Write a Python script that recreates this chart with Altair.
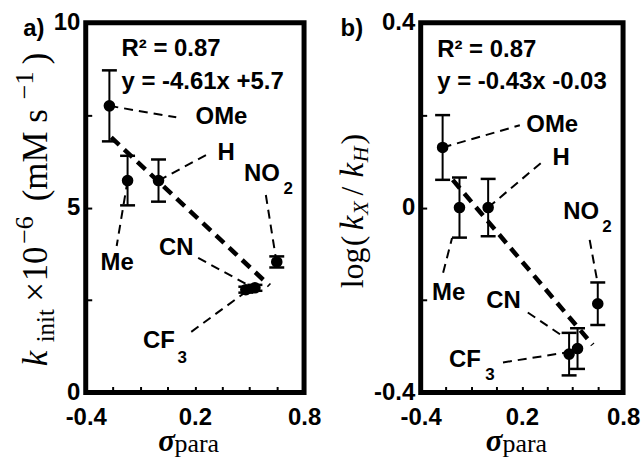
import altair as alt
import pandas as pd

# ---------------- data ----------------
substituents = ["OMe", "Me", "H", "CF3", "CN", "NO2"]
sigma_para = [-0.27, -0.17, 0.0, 0.48, 0.53, 0.65]
k_init = [7.75, 5.73, 5.73, 2.78, 2.83, 3.53]
k_init_err = [0.96, 0.67, 0.57, 0.08, 0.08, 0.15]
log_ratio = [0.13, 0.0, 0.0, -0.317, -0.305, -0.208]
log_ratio_err = [0.07, 0.065, 0.062, 0.046, 0.044, 0.046]

fit_a_x = [-0.26, 0.61]
fit_a_y = [6.90, 2.89]
fit_b_x = [-0.21, 0.62]
fit_b_y = [0.06, -0.297]

label_text = ["OMe", "H", "NO", "Me", "CN", "CF"]
label_a_x = [0.346, 0.371, 0.568, -0.227, 0.0975, 0.002]
label_a_y = [7.45, 6.47, 5.90, 3.50, 3.91, 1.39]
label_b_x = [0.380, 0.433, 0.552, -0.234, 0.091, -0.137]
label_b_y = [0.178, 0.107, -0.009, -0.184, -0.203, -0.330]

sub_text = ["2", "3"]
sub_a_x = [0.713, 0.130]
sub_a_y = [5.50, 0.92]
sub_b_x = [0.705, 0.011]
sub_b_y = [-0.041, -0.363]

# leader lines: OMe, Me, H, NO2, CN, CF3
lead_a_x1 = [-0.27, -0.17, 0.0, 0.590, 0.218, 0.180]
lead_a_y1 = [7.75, 5.73, 5.73, 5.34, 3.64, 1.64]
lead_a_x2 = [0.0975, -0.230, 0.262, 0.644, 0.491, 0.480]
lead_a_y2 = [7.44, 3.96, 6.42, 3.67, 2.91, 2.72]
lead_b_x1 = [-0.27, -0.267, 0.0, 0.602, 0.235, 0.088]
lead_b_y1 = [0.13, -0.141, 0.0, -0.070, -0.227, -0.335]
lead_b_x2 = [0.188, -0.214, 0.318, 0.649, 0.454, 0.454]
lead_b_y2 = [0.178, -0.066, 0.098, -0.163, -0.281, -0.314]

ann_a_text = ["R\u00b2 = 0.87", "y = -4.61x +5.7"]
ann_a_x = [-0.203, -0.203]
ann_a_y = [9.29, 8.40]
ann_b_text = ["R\u00b2 = 0.87", "y = -0.43x -0.03"]
ann_b_x = [-0.302, -0.302]
ann_b_y = [0.341, 0.272]

x_ticks = [-0.4, -0.25, -0.1, 0.05, 0.2, 0.35, 0.5, 0.65, 0.8]
x_tick_labels = {-0.4: "-0.4", 0.2: "0.2", 0.8: "0.8"}
ya_ticks = [0, 2.5, 5, 7.5, 10]
ya_tick_labels = {0: "0", 5: "5", 10: "10"}
yb_ticks = [-0.4, -0.2, 0, 0.2, 0.4]
yb_tick_labels = {-0.4: "-0.4", 0: "0", 0.4: "0.4"}

# ---------------- helpers ----------------
SANS = "Liberation Sans"
SERIF = "Liberation Serif"
H = 371
one = pd.DataFrame({"k": [0]})


def label_expr(d):
    s = ""
    for v, t in d.items():
        s += f"datum.value === {v} ? '{t}' : "
    return s + "''"


def make_axis(values, labels, orient):
    return alt.Axis(
        values=values, labelExpr=label_expr(labels), title=None, domain=False, grid=False,
        ticks=True, tickSize=6, offset=-6, tickWidth=2, tickColor="black",
        labelFont=SANS, labelFontWeight="bold", labelFontSize=24, labelColor="black",
        labelPadding=13 if orient == "x" else 6, labelFlush=False, labelOverlap=False,
    )


def txt(text, x, y, size, angle=None, style="normal", weight="normal", font=SERIF,
        align="center", baseline="alphabetic"):
    kw = dict(text=text, fontSize=size, fontStyle=style, fontWeight=weight, font=font,
              align=align, baseline=baseline, color="black")
    if angle is not None:
        kw["angle"] = angle
    return alt.Chart(one).mark_text(**kw).encode(x=alt.value(x), y=alt.value(y))


def panel(yvals, yerr, fx, fy, lx, ly, sx, sy, l1x, l1y, l2x, l2y, ax, ay, at,
          ydom, yticks, ylabels, width, extra):
    xs = alt.Scale(domain=[-0.4, 0.8], nice=False, zero=False)
    ys = alt.Scale(domain=ydom, nice=False, zero=False)
    xa = make_axis(x_ticks, x_tick_labels, "x")
    ya = make_axis(yticks, ylabels, "y")

    def X(f="x"):
        return alt.X(f"{f}:Q", scale=xs, axis=xa)

    def Y(f="y"):
        return alt.Y(f"{f}:Q", scale=ys, axis=ya)

    pts = pd.DataFrame({"name": substituents, "x": sigma_para, "y": yvals,
                        "lo": [v - e for v, e in zip(yvals, yerr)],
                        "hi": [v + e for v, e in zip(yvals, yerr)]})
    caps = pd.DataFrame({"x": sigma_para * 2, "y": list(pts["lo"]) + list(pts["hi"])})
    fit = pd.DataFrame({"x": fx, "y": fy})
    lead = pd.DataFrame({"x": l1x, "y": l1y, "x2": l2x, "y2": l2y})
    labs = pd.DataFrame({"x": lx, "y": ly, "t": label_text})
    subs = pd.DataFrame({"x": sx, "y": sy, "t": sub_text})
    anns = pd.DataFrame({"x": ax, "y": ay, "t": at})

    layers = [
        alt.Chart(lead).mark_rule(color="black", strokeWidth=2, strokeDash=[9, 6]).encode(
            x=X(), y=Y(), x2="x2:Q", y2="y2:Q"),
        alt.Chart(fit).mark_line(color="black", strokeWidth=4.5, strokeDash=[11, 7]).encode(
            x=X(), y=Y()),
        alt.Chart(pts).mark_rule(color="black", strokeWidth=2).encode(
            x=X(), y=Y("lo"), y2="hi:Q"),
        alt.Chart(caps).mark_tick(color="black", orient="horizontal", size=15, thickness=2.5,
                                  opacity=1).encode(x=X(), y=Y()),
        alt.Chart(pts).mark_circle(color="black", size=135, opacity=1).encode(x=X(), y=Y()),
        alt.Chart(labs).mark_text(font=SANS, fontWeight="bold", fontSize=24, color="black",
                                  align="center", baseline="middle").encode(
            x=X(), y=Y(), text="t:N"),
        alt.Chart(subs).mark_text(font=SANS, fontWeight="bold", fontSize=17, color="black",
                                  align="center", baseline="middle").encode(
            x=X(), y=Y(), text="t:N"),
        alt.Chart(anns).mark_text(font=SANS, fontWeight="bold", fontSize=24, color="black",
                                  align="left", baseline="middle").encode(
            x=X(), y=Y(), text="t:N"),
    ]
    layers += extra
    return alt.layer(*layers).properties(width=width, height=H)


WA, WB = 219, 203

extra_a = [
    txt("a)", -52, 6, 24, font=SANS, weight="bold", baseline="middle"),
    # y title: k_init x 10^-6 (mM s^-1)
    txt("k", -39, 337, 35, angle=270, style="italic"),
    txt("init", -32, 304, 25, angle=270),
    txt("\u00d7", -39, 270, 35, angle=270),
    txt("10", -39, 242, 35, angle=270),
    txt("\u22126", -53, 208, 26, angle=270),
    txt("(mM s", -39, 133, 35, angle=270),
    txt("\u22121", -53, 63, 26, angle=270),
    txt(")", -39, 36, 35, angle=270),
    # x title
    txt("\u03c3", 81, 430, 31, style="italic", weight="bold"),
    txt("para", 89, 431, 26, align="left"),
]
extra_b = [
    txt("b)", -69, 6, 24, font=SANS, weight="bold", baseline="middle"),
    txt("log", -58, 246, 32, angle=270),
    txt("(", -58, 219, 32, angle=270),
    txt("k", -58, 201, 33, angle=270, style="italic"),
    txt("X", -53, 186, 22, angle=270, style="italic"),
    txt("/", -58, 169, 32, angle=270),
    txt("k", -58, 148, 33, angle=270, style="italic"),
    txt("H", -53, 132, 22, angle=270, style="italic"),
    txt(")", -58, 117, 32, angle=270),
    txt("\u03c3", 73.5, 430, 31, style="italic", weight="bold"),
    txt("para", 82, 431, 26, align="left"),
]

pa = panel(k_init, k_init_err, fit_a_x, fit_a_y, label_a_x, label_a_y, sub_a_x, sub_a_y,
           lead_a_x1, lead_a_y1, lead_a_x2, lead_a_y2, ann_a_x, ann_a_y, ann_a_text,
           [0, 10], ya_ticks, ya_tick_labels, WA, extra_a)
pb = panel(log_ratio, log_ratio_err, fit_b_x, fit_b_y, label_b_x, label_b_y, sub_b_x, sub_b_y,
           lead_b_x1, lead_b_y1, lead_b_x2, lead_b_y2, ann_b_x, ann_b_y, ann_b_text,
           [-0.4, 0.4], yb_ticks, yb_tick_labels, WB, extra_b)

chart = alt.hconcat(pa, pb, spacing=117, bounds="flush").properties(
    padding={"left": 9, "top": 7, "right": 0, "bottom": 0},
    background="white",
).configure_view(stroke="black", strokeWidth=5)

chart.save("out.html", embed_options={"renderer": "svg", "actions": False})
